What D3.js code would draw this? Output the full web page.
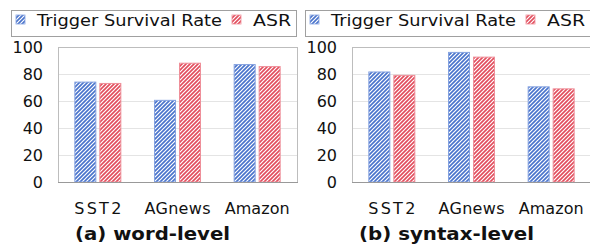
<!DOCTYPE html>
<html>
<head>
<meta charset="utf-8">
<script src="https://cdn.jsdelivr.net/npm/d3@7"></script>
<style>
  body { margin: 0; background: #fff; }
  text { font-family: "DejaVu Sans", "Noto Sans", sans-serif; fill: #111; }
</style>
</head>
<body>
<div id="chart"></div>
<script>
// Chart data
const categories = ["SST2", "AGnews", "Amazon"];
const seriesNames = ["Trigger Survival Rate", "ASR"];
const panelTitles = ["(a) word-level", "(b) syntax-level"];
const wordSurvival = [74, 60.5, 87];
const wordASR = [73, 88, 85.5];
const syntaxSurvival = [81.5, 96, 70.5];
const syntaxASR = [79, 92.5, 69];
const yTicks = [0, 20, 40, 60, 80, 100];

const panelData = [
  [wordSurvival, wordASR],
  [syntaxSurvival, syntaxASR],
];

// Layout (panel-local coordinates, second panel shifted right)
const width = 590;
const height = 246;
const panelOffset = 294;
const plot = { left: 58, right: 297, top: 47, bottom: 182 };
const colors = ["#4a74cc", "#e24d5d"];
const borders = ["#86a3e0", "#ef8f99"];
const catLabelLen = [47, 66, 65]; // measured label widths in the picture

const svg = d3
  .select("#chart")
  .append("svg")
  .attr("width", width)
  .attr("height", height);

// Hatch patterns, white upward diagonals on the fill colour
const defs = svg.append("defs");
colors.forEach((c, i) => {
  const p = defs
    .append("pattern")
    .attr("id", "hatch" + i)
    .attr("patternUnits", "userSpaceOnUse")
    .attr("width", 4)
    .attr("height", 4);
  p.append("rect").attr("width", 4).attr("height", 4).attr("fill", c);
  p.append("path")
    .attr("d", "M-1,1 l2,-2 M0,4 l4,-4 M3,5 l2,-2")
    .attr("stroke", "#fff")
    .attr("stroke-width", 1.2);
});

const x = d3.scaleBand().domain(categories).range([plot.left, plot.right]).padding(0);
const y = d3.scaleLinear().domain([0, 100]).range([plot.bottom, plot.top]);

panelData.forEach((series, pi) => {
  const g = svg.append("g").attr("transform", `translate(${pi * panelOffset},0)`);

  // Legend box
  g.append("rect")
    .attr("x", 11.5)
    .attr("y", 10.5)
    .attr("width", 285)
    .attr("height", 26)
    .attr("fill", "#fff")
    .attr("stroke", "#a0a0a0");
  const legendX = [16, 232];
  const legendLen = [185, 38];
  seriesNames.forEach((name, si) => {
    g.append("rect")
      .attr("x", legendX[si])
      .attr("y", 15)
      .attr("width", 9)
      .attr("height", 9)
      .attr("fill", `url(#hatch${si})`)
      .attr("stroke", borders[si])
      .attr("stroke-width", 0.8);
    g.append("text")
      .attr("x", legendX[si] + 21)
      .attr("y", 26)
      .attr("font-size", 16)
      .attr("textLength", legendLen[si])
      .attr("lengthAdjust", "spacingAndGlyphs")
      .text(name);
  });

  // Gridlines
  g.append("g")
    .selectAll("line")
    .data(yTicks.slice(1, -1))
    .join("line")
    .attr("x1", plot.left)
    .attr("x2", plot.right)
    .attr("y1", (d) => Math.round(y(d)) + 0.5)
    .attr("y2", (d) => Math.round(y(d)) + 0.5)
    .attr("stroke", "#e4e4e4");

  // Plot frame
  g.append("rect")
    .attr("x", plot.left + 0.5)
    .attr("y", plot.top + 0.5)
    .attr("width", plot.right - plot.left)
    .attr("height", plot.bottom - plot.top)
    .attr("fill", "none")
    .attr("stroke", "#bdbdbd");

  // Bars
  categories.forEach((cat, ci) => {
    const c = x(cat) + x.bandwidth() / 2;
    const x1 = d3.scaleBand().domain(seriesNames).range([c - 23.5, c + 23.5]).paddingInner(0.12);
    g.append("g")
      .selectAll("rect")
      .data(seriesNames.map((s, si) => ({ s, si, v: series[si][ci] })))
      .join("rect")
      .attr("x", (d) => x1(d.s) + 0.5)
      .attr("y", (d) => y(d.v))
      .attr("width", x1.bandwidth() - 1)
      .attr("height", (d) => y(0) - y(d.v))
      .attr("fill", (d) => `url(#hatch${d.si})`)
      .attr("stroke", (d) => borders[d.si])
      .attr("stroke-width", 1);
  });

  // Bottom axis line
  g.append("line")
    .attr("x1", plot.left)
    .attr("x2", plot.right + 1)
    .attr("y1", plot.bottom + 0.5)
    .attr("y2", plot.bottom + 0.5)
    .attr("stroke", "#999");

  // Y tick labels
  g.append("g")
    .selectAll("text")
    .data(yTicks)
    .join("text")
    .attr("x", 43)
    .attr("y", (d) => y(d) + 6)
    .attr("text-anchor", "end")
    .attr("font-size", 16)
    .text((d) => d);

  // X labels
  g.append("g")
    .selectAll("text")
    .data(categories)
    .join("text")
    .attr("x", (d) => x(d) + x.bandwidth() / 2)
    .attr("y", 214)
    .attr("text-anchor", "middle")
    .attr("font-size", 16)
    .attr("textLength", (d, i) => catLabelLen[i])
    .attr("lengthAdjust", "spacing")
    .text((d) => d);

  // Panel title
  g.append("text")
    .attr("x", 152.5)
    .attr("y", 240)
    .attr("text-anchor", "middle")
    .attr("font-size", 17)
    .attr("font-weight", "bold")
    .attr("textLength", pi === 0 ? 155 : 175)
    .attr("lengthAdjust", "spacingAndGlyphs")
    .text(panelTitles[pi]);
});
</script>
</body>
</html>
